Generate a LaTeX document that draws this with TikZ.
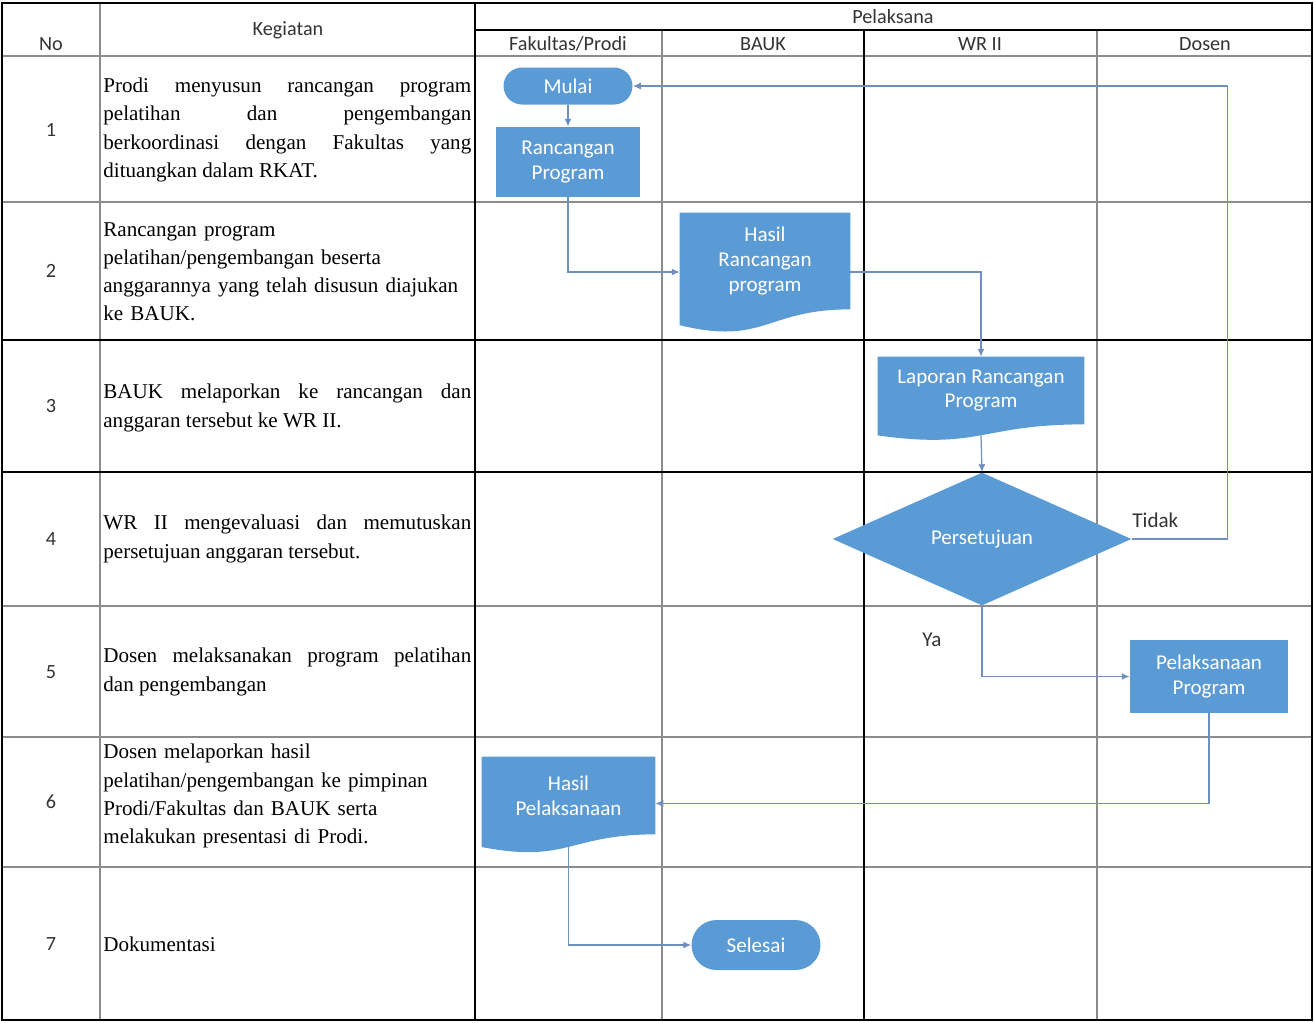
\documentclass[tikz,border=0pt]{standalone}
\usepackage{fontspec}
\setmainfont{Liberation Serif}
\setsansfont{Carlito}
\usetikzlibrary{shapes.geometric,arrows.meta,calc}
\pgfdeclarelayer{background}
\pgfsetlayers{background,main}
\tikzset{>={Latex[length=4.5pt,width=4pt]}}
\definecolor{flowblue}{HTML}{5B9BD5}
\definecolor{flowgray}{HTML}{6F8FBF}
\colorlet{gridcol}{black!45}
\colorlet{headcol}{black!80}
\tikzstyle{grid thick}=[line width=1.3pt,black]
\tikzstyle{grid thin}=[line width=0.6pt,gridcol]
\tikzstyle{head}=[font=\sffamily\fontsize{11.5}{13}\selectfont,text=headcol]
\tikzstyle{step text}=[anchor=west,inner sep=0pt,text width=7.36cm,align=justify,
  font={\fontsize{12}{16}\selectfont\tolerance=10000\hyphenpenalty=10000}]
\tikzstyle{flow shape}=[fill=flowblue,text=white,align=center,inner sep=0pt,
  font=\sffamily\fontsize{12}{14}\selectfont]
\tikzstyle{flow box}=[flow shape,rectangle]
\tikzstyle{flow term}=[flow shape,rectangle]
\tikzstyle{flow doc}=[flow shape,fill=none,rectangle]
\tikzstyle{flow decision}=[flow shape,diamond]
\tikzstyle{flow line}=[->,line width=0.7pt,flowgray]
\tikzstyle{flow label}=[font=\sffamily\fontsize{12}{14}\selectfont,text=headcol,inner sep=0pt]

\begin{document}
\begin{tikzpicture}[x=0.02cm,y=-0.02cm]
  \def\xL{2}
  \def\xR{1312}
  \def\yT{3}
  \def\yB{1020}
  \useasboundingbox (0,0) rectangle (1314,1022);

  % TABLE
  \begin{pgfonlayer}{background}
    \foreach \y in {56,202,606,737,867}
      \draw[grid thin] (\xL,\y) -- (\xR,\y);
    \draw[grid thin] (100,\yT) -- (100,\yB);
    \foreach \x in {662,1097}
      \draw[grid thin] (\x,30) -- (\x,\yB);
    \foreach \y in {340,472}
      \draw[grid thick] (\xL,\y) -- (\xR,\y);
    \draw[grid thick] (475,\yT) -- (475,\yB);
    \draw[grid thick] (864,30) -- (864,\yB);
    \draw[grid thick] (475,30) -- (\xR,30);
    \draw[grid thick] (\xL,\yT) rectangle (\xR,\yB);
  \end{pgfonlayer}

  % HEADER
  \node[head] (hno) at (51,44) {No};
  \node[head] (hkeg) at (288,30) {Kegiatan};
  \node[head] (hpel) at (893,17) {Pelaksana};
  \node[head] (hfak) at (568,44) {Fakultas/Prodi};
  \node[head] (hbauk) at (763,44) {BAUK};
  \node[head] (hwr) at (980,44) {WR II};
  \node[head] (hdos) at (1205,44) {Dosen};

  % STEPS
  \foreach \n/\yc in {1/130,2/271,3/406,4/539,5/672,6/802,7/944}
    \node[head] (n\n) at (51,\yc) {\n};
  \node[step text] (k1) at (103,130) {Prodi menyusun rancangan program\linebreak
    pelatihan dan pengembangan\linebreak berkoordinasi dengan Fakultas yang\linebreak
    dituangkan dalam RKAT.};
  \node[step text,align=left] (k2) at (103,272) {Rancangan program\\
    pelatihan/pengembangan beserta\\ anggarannya yang telah disusun diajukan\\ ke BAUK.};
  \node[step text] (k3) at (103,408) {BAUK melaporkan ke rancangan dan\linebreak
    anggaran tersebut ke WR II.};
  \node[step text] (k4) at (103,539) {WR II mengevaluasi dan memutuskan\linebreak
    persetujuan anggaran tersebut.};
  \node[step text] (k5) at (103,672) {Dosen melaksanakan program pelatihan\linebreak
    dan pengembangan};
  \node[step text,align=left] (k6) at (103,796) {Dosen melaporkan hasil\\
    pelatihan/pengembangan ke pimpinan\\ Prodi/Fakultas dan BAUK serta\\
    melakukan presentasi di Prodi.};
  \node[step text] (k7) at (103,944) {Dokumentasi};

  % SHAPES
  \node[flow term,minimum width=2.58cm,minimum height=0.74cm,rounded corners=0.37cm]
    (mulai) at (568,86) {Mulai};
  \node[flow box,minimum width=2.9cm,minimum height=1.4cm]
    (rancangan) at (568,162) {Rancangan\\Program};
  \node[flow doc,minimum width=3.4cm,minimum height=1.92cm]
    (hasilr) at (765,261) {Hasil\\Rancangan\\program};
  \node[flow doc,minimum width=4.12cm,minimum height=1.34cm]
    (laporan) at (981,390.5) {Laporan Rancangan\\Program};
  \node[flow decision,minimum width=5.98cm,minimum height=2.66cm]
    (persetujuan) at (982,539) {Persetujuan};
  \node[flow box,minimum width=3.16cm,minimum height=1.46cm]
    (pelaksanaan) at (1209,676.5) {Pelaksanaan\\Program};
  \node[flow doc,minimum width=3.46cm,minimum height=1.54cm]
    (hasilp) at (568.5,795.5) {Hasil\\Pelaksanaan};
  \node[flow term,minimum width=2.58cm,minimum height=1cm,rounded corners=0.5cm]
    (selesai) at (756,945) {Selesai};

  % document bodies with wavy bottom
  \begin{pgfonlayer}{background}
    \foreach \d/\h in {hasilr/96,laporan/67,hasilp/77}
      \fill[flowblue] (\d.north west) -- (\d.north east) -- (\d.south east)
        .. controls (\d.south) and ($(\d.south)+(0,0.38*\h)$)
        .. ($(\d.south west)+(0,0.165*\h)$) -- cycle;
  \end{pgfonlayer}

  % CONNECTORS
  \draw[flow line] (mulai) -- (rancangan);
  \draw[flow line] (rancangan.south) |- ($(hasilr.west)+(0,11)$);
  \draw[flow line] ($(hasilr.east)+(0,11)$) -| (laporan.north);
  \draw[flow line] ($(laporan.south)+(0,11)$) -- (persetujuan.north);
  \draw[flow line] (persetujuan.east)
    -- node[flow label,pos=0,anchor=south west,yshift=0.22cm] {Tidak} ++(96,0)
    |- (mulai.east);
  \draw[flow line] (persetujuan.south)
    |- node[flow label,pos=0.24,left=0.8cm] {Ya} (pelaksanaan.west);
  \draw[flow line] (pelaksanaan.south) |- ($(hasilp.east)+(0,8)$);
  \draw[flow line] ($(hasilp.south)+(0,12)$) |- (selesai.west);
\end{tikzpicture}
\end{document}
